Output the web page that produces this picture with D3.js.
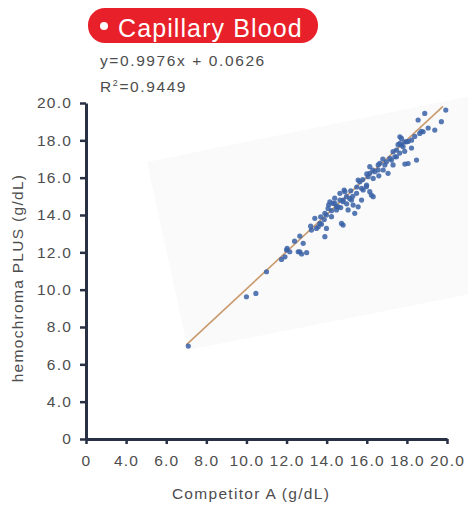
<!DOCTYPE html>
<html>
<head>
<meta charset="utf-8">
<script src="https://cdn.jsdelivr.net/npm/d3@7"></script>
<style>
  body { margin: 0; background: #fff; }
  text { font-family: "Liberation Sans", Arial, sans-serif; }
</style>
</head>
<body>
<div id="content"></div>
<script>
// data (g/dL)
var competitorA = [7.10,10.00,10.47,11.00,11.75,11.92,12.03,12.66,12.75,13.00,12.66,12.83,13.41,13.91,13.49,13.74,13.99,13.88,14.24,14.16,
  14.49,14.82,14.66,14.91,14.99,15.07,15.24,15.40,15.57,15.74,15.49,15.82,15.65,15.99,16.15,16.32,16.07,16.15,16.40,16.57,
  16.82,16.98,17.15,17.31,17.40,17.65,17.48,17.73,17.81,17.98,18.06,17.90,18.23,18.48,18.56,18.89,18.64,18.81,19.39,19.72,
  19.94,12.00,12.16,12.58,13.24,13.58,13.66,13.99,13.91,14.07,14.10,14.24,14.41,14.49,14.66,14.74,14.82,14.87,14.32,14.57,
  14.82,15.15,15.32,15.57,15.74,15.98,16.23,16.15,16.32,16.57,16.65,16.90,17.06,17.23,17.31,17.48,17.65,17.73,17.89,19.06,
  18.72,18.39,18.06,17.56,17.64,17.89,18.23,15.20,15.30,15.00,14.70,15.50,15.80,16.00,16.30,16.60,16.80,14.40,13.70,13.20,12.40];
var hemochromaPlus = [6.98,9.62,9.80,10.96,11.62,11.76,12.21,12.03,11.91,11.98,12.87,12.48,13.82,12.84,13.28,13.51,14.00,13.76,14.23,14.71,
  14.44,13.46,14.80,15.25,14.98,14.27,14.80,14.09,14.44,14.80,15.16,15.34,15.78,15.60,15.25,14.98,16.05,16.59,16.32,16.68,
  16.41,16.85,17.03,16.68,17.12,17.84,17.48,18.10,17.66,17.92,16.76,16.73,18.01,16.94,19.09,19.44,18.37,18.46,18.55,19.00,
  19.62,12.12,12.03,12.03,13.19,13.37,13.55,13.28,14.09,14.35,14.55,13.91,14.62,14.27,15.16,13.55,14.71,15.34,14.62,14.44,
  14.80,14.89,14.53,15.87,15.43,15.52,15.07,16.23,15.96,16.41,16.77,16.68,16.23,16.94,17.39,17.12,18.19,17.75,17.92,18.66,
  18.48,18.21,17.94,17.77,17.32,17.41,17.59,15.30,15.00,14.60,14.40,15.50,15.90,16.20,16.40,16.10,17.00,14.90,13.90,13.40,12.60];
var slope = 0.9976, intercept = 0.0626;
var fitRange = [7.0, 19.8];
// axis ticks: first one sits at 2 but is labelled 0
var tickVals = [2,4,6,8,10,12,14,16,18,20];

var svg = d3.select("#content").append("svg")
    .attr("width", 468).attr("height", 508);

var x = d3.scaleLinear().domain([2,20]).range([86,447]);
var y = d3.scaleLinear().domain([2,20]).range([439,103]);

var axisColor = '#283044';
var labelColor = '#4d4d4d';

// faint scan background behind the points
svg.append('polygon')
    .attr('points', '147,162 470,96 470,294 188,350')
    .attr('fill', '#fafafa');

// title badge
svg.append('rect').attr('x',88).attr('y',8).attr('width',230).attr('height',35)
    .attr('rx',17).attr('fill','#e8202a');
svg.append('circle').attr('cx',104).attr('cy',26).attr('r',4).attr('fill','#fff');
svg.append('text').attr('x',118).attr('y',37).text('Capillary Blood')
    .attr('fill','#fff').attr('font-size',25).attr('letter-spacing','1.1px');

// equation
svg.append('text').attr('x',100).attr('y',66).text('y=0.9976x + 0.0626')
    .attr('fill',labelColor).attr('font-size',15.5).attr('letter-spacing','1.6px');
var r2 = svg.append('text').attr('x',100).attr('y',92)
    .attr('fill',labelColor).attr('font-size',15.5).attr('letter-spacing','1.6px');
r2.append('tspan').text('R');
r2.append('tspan').text('2').attr('font-size',9).attr('dy',-6);
r2.append('tspan').text('=0.9449').attr('dy',6);

function fmt(d){ return d === 2 ? '0' : d.toFixed(1); }

// axes
var gx = svg.append('g').attr('transform','translate(0,439)')
    .call(d3.axisBottom(x).tickValues(tickVals).tickFormat(fmt).tickSize(5).tickSizeOuter(0));
var gy = svg.append('g').attr('transform','translate(86,0)')
    .call(d3.axisLeft(y).tickValues(tickVals).tickFormat(fmt).tickSize(6).tickSizeOuter(0));

[gx, gy].forEach(function(g){
    g.select('.domain').attr('stroke',axisColor).attr('stroke-width',3);
    g.selectAll('.tick line').attr('stroke',axisColor).attr('stroke-width',2.5);
    g.selectAll('.tick text').attr('fill',labelColor).attr('font-size',15.5)
        .attr('font-family','"Liberation Sans", Arial, sans-serif').attr('letter-spacing','1.2px');
});
gx.selectAll('.tick text').attr('dy','1.2em');
gy.selectAll('.tick text').attr('x',-14);

// axis titles
svg.append('text').attr('x',251).attr('y',499).attr('text-anchor','middle')
    .text('Competitor A (g/dL)').attr('fill',labelColor).attr('font-size',15.5).attr('letter-spacing','1.3px');
svg.append('text').attr('transform','translate(23,278) rotate(-90)').attr('text-anchor','middle')
    .text('hemochroma PLUS (g/dL)').attr('fill',labelColor).attr('font-size',15.5).attr('letter-spacing','1.3px');

// fit line
svg.append('line')
    .attr('x1', x(fitRange[0])).attr('y1', y(slope*fitRange[0]+intercept))
    .attr('x2', x(fitRange[1])).attr('y2', y(slope*fitRange[1]+intercept))
    .attr('stroke','#c99a6e').attr('stroke-width',1.6);

// points
svg.append('g').selectAll('circle')
    .data(d3.range(competitorA.length))
    .enter().append('circle')
    .attr('cx', function(i){ return x(competitorA[i]); })
    .attr('cy', function(i){ return y(hemochromaPlus[i]); })
    .attr('r', 2.6)
    .attr('fill', '#3a62a6')
    .attr('fill-opacity', 0.85);
</script>
</body>
</html>
